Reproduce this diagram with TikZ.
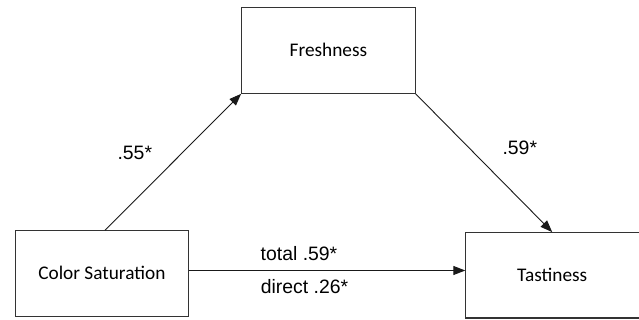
\documentclass[tikz,border=0pt]{standalone}
\usepackage{fontspec}
\setmainfont{Carlito}
\newfontfamily\arialfont{Liberation Sans}
\usetikzlibrary{arrows.meta}
\begin{document}
\begin{tikzpicture}[x=1pt,y=-1pt,
  box/.style={draw=black!80,line width=1.1pt,fill=white,inner sep=0pt,
    minimum width=173.5pt,minimum height=86pt,
    font=\fontsize{19.3}{22}\selectfont},
  conn/.style={draw=black!90,line width=0.9pt,-{Triangle[length=12pt,width=9pt]}},
  elabel/.style={inner sep=0pt,font=\arialfont\fontsize{19.4}{22}\selectfont}]
\useasboundingbox (0,0) rectangle (639,320);
\begin{scope}
\clip (0,0) rectangle (639,320);
\node[box] (fr) at (328.4,50.3) {Freshness};
\node[box] (cs) at (101.9,273.3) {Color Saturation};
\node[box,minimum width=174.5pt,minimum height=85.3pt] (ta) at (553.1,275.3) {};
\end{scope}
\node[font=\fontsize{19.3}{22}\selectfont] (tat) at (552.2,275.3) {Tastiness};
\coordinate (csTop) at (105,230.3);
\draw[conn] (csTop) -- (fr.south west);
\draw[conn] (fr.south east) -- (ta.north -| tat.center);
\draw[conn] (cs.east |- 0,270.5) -- (ta.west |- 0,270.5);
\node[elabel] (l1) at (134.8,153) {.55*};
\node[elabel] (l2) at (519.8,148) {.59*};
\node[elabel] (l3) at (299,254) {total .59*};
\node[elabel] (l4) at (304.5,286.5) {direct .26*};
\end{tikzpicture}
\end{document}
